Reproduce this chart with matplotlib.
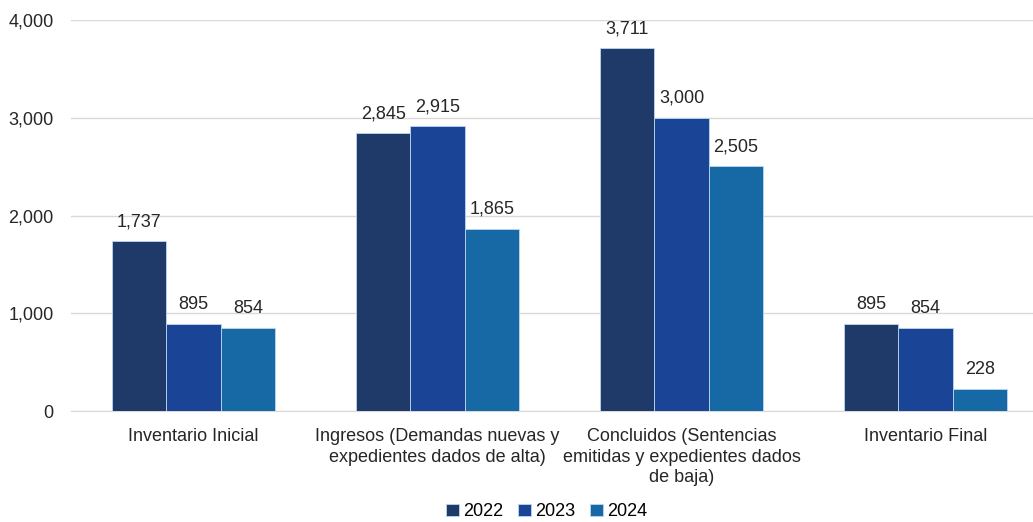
import matplotlib.pyplot as plt
import numpy as np

# datos
categorias = ["Inventario Inicial",
              "Ingresos (Demandas nuevas y\nexpedientes dados de alta)",
              "Concluidos (Sentencias\nemitidas y expedientes dados\nde baja)",
              "Inventario Final"]
anios = ["2022", "2023", "2024"]
v2022 = [1737, 2845, 3711, 895]
v2023 = [895, 2915, 3000, 854]
v2024 = [854, 1865, 2505, 228]
colores = ["#1F3A68", "#1A4597", "#1769A5"]

plt.rcParams['font.family'] = ['Liberation Sans', 'DejaVu Sans']
fs = 13

fig = plt.figure(figsize=(10.33, 5.22), dpi=100)
ax = fig.add_axes([0.0692, 0.2126, 0.9448, 0.7491])

x = np.arange(len(categorias))
w = 0.223
series = [v2022, v2023, v2024]
for i, vals in enumerate(series):
    barras = ax.bar(x + (i - 1) * w, vals, w, color=colores[i], label=anios[i],
                    edgecolor="#BDD7EE", linewidth=0.6, zorder=3)
    for b, v in zip(barras, vals):
        ax.text(b.get_x() + b.get_width() / 2, v + 110, f"{v:,}",
                ha="center", va="bottom", fontsize=fs, color="#262626")

ax.set_xlim(-0.5, 3.5)
ax.set_ylim(0, 4000)
ax.set_yticks([0, 1000, 2000, 3000, 4000])
ax.set_yticklabels([f"{t:,}" for t in [0, 1000, 2000, 3000, 4000]])
ax.set_xticks(x)
ax.set_xticklabels(categorias, linespacing=1.3)
ax.tick_params(axis="both", length=0, labelsize=fs, colors="#262626")
ax.tick_params(axis="y", pad=13)
ax.tick_params(axis="x", pad=12)
ax.grid(axis="y", color="#D9D9D9", linewidth=1, zorder=0)
for s in ["top", "right", "left"]:
    ax.spines[s].set_visible(False)
ax.spines["bottom"].set_color("#D9D9D9")

ax.legend(loc="lower center", bbox_to_anchor=(0.487, -0.312), ncol=3, frameon=False,
          fontsize=fs, handlelength=0.7, handleheight=0.7, handletextpad=0.25,
          columnspacing=0.8, borderpad=0.2)

fig.savefig("out.png", dpi=100)
